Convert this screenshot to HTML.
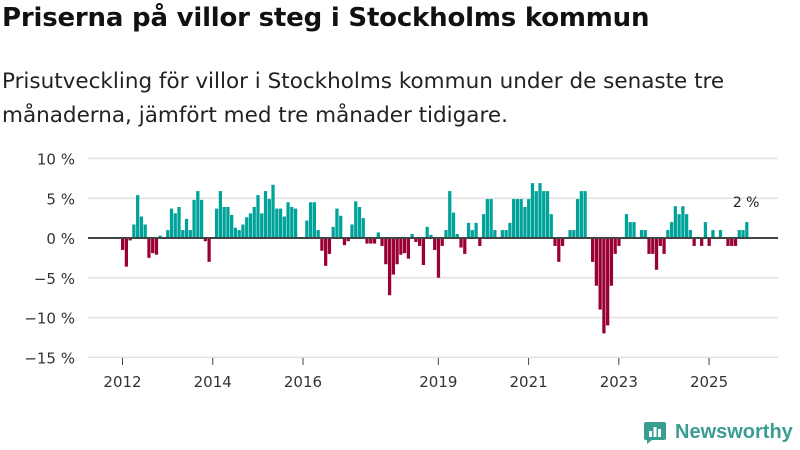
<!DOCTYPE html>
<html><head><meta charset="utf-8">
<style>
body{margin:0;width:800px;height:450px;background:#fff;font-family:"DejaVu Sans","Liberation Sans",sans-serif;overflow:hidden;position:relative}
h1{position:absolute;left:2px;top:3px;margin:0;font-size:26px;font-weight:bold;color:#111;letter-spacing:-0.2px}
p{position:absolute;left:2px;top:65px;margin:0;font-size:21.5px;line-height:34px;color:#222;width:798px;white-space:nowrap}
</style></head><body>
<h1>Priserna på villor steg i Stockholms kommun</h1>
<p>Prisutveckling för villor i Stockholms kommun under de senaste tre<br>månaderna, jämfört med tre månader tidigare.</p>
<svg id="chart" width="800" height="450" style="position:absolute;left:0;top:0"></svg>
<div style="position:absolute;left:643px;top:420px;display:flex;align-items:center;color:#3a9d91;font-size:20px;font-weight:bold;font-family:'Liberation Sans',sans-serif">
<svg width="24" height="24" viewBox="0 0 24 24" style="margin-right:8px"><path d="M3 2h18a2 2 0 0 1 2 2v14a2 2 0 0 1-2 2H9l-5 4v-4H3a2 2 0 0 1-2-2V4a2 2 0 0 1 2-2z" fill="#3a9d91"/><rect x="6" y="11" width="3" height="6" fill="#fff"/><rect x="10.5" y="7" width="3" height="10" fill="#fff"/><rect x="15" y="9" width="3" height="8" fill="#fff"/></svg>Newsworthy</div>
<script>
const values=[-1.5,-3.6,-0.3,1.7,5.4,2.7,1.7,-2.5,-1.9,-2.1,0.3,0,1.0,3.7,3.1,3.9,1.0,2.4,1.0,4.8,5.9,4.8,-0.4,-3.0,0,3.7,5.9,3.9,3.9,2.9,1.3,1.0,1.7,2.6,3.1,3.9,5.4,3.1,5.9,4.9,6.7,3.7,3.7,2.7,4.5,3.9,3.7,0,0,2.2,4.5,4.5,1.0,-1.6,-3.5,-2.0,1.4,3.7,2.8,-0.9,-0.4,1.7,4.6,3.9,2.5,-0.7,-0.7,-0.7,0.7,-1.0,-3.3,-7.2,-4.6,-3.3,-2.1,-1.9,-2.6,0.5,-0.5,-1.0,-3.4,1.4,0.4,-1.5,-5.0,-1.0,1.0,5.9,3.2,0.5,-1.2,-2.0,1.9,1.0,1.9,-1.0,3.0,4.9,4.9,1.0,0,1.0,1.0,1.9,4.9,4.9,4.9,3.9,4.9,6.9,5.9,6.9,5.9,5.9,3.0,-1.0,-3.0,-1.0,0,1.0,1.0,4.9,5.9,5.9,0,-3.0,-6.0,-9.0,-12.0,-11.0,-6.0,-2.0,-1.0,0,3.0,2.0,2.0,0,1.0,1.0,-2.0,-2.0,-4.0,-1.0,-2.0,1.0,2.0,4.0,3.0,4.0,3.0,1.0,-1.0,0,-1.0,2.0,-1.0,1.0,0,1.0,0,-1.0,-1.0,-1.0,1.0,1.0,2.0];
const startYear=2012;
const yTicks=[10,5,0,-5,-10,-15];
const yTickLabels=["10 %","5 %","0 %","−5 %","−10 %","−15 %"];
const xTickYears=[2012,2014,2016,2019,2021,2023,2025];
const lastLabel="2 %";
const svg=document.getElementById('chart');
const NS='http://www.w3.org/2000/svg';
const step=3.76, x0=121;
const FONT='DejaVu Sans, Liberation Sans, sans-serif';
function xScale(i){return x0+i*step;}
function yScale(v){return 238-v*7.95;}
function mk(tag,attrs){const e=document.createElementNS(NS,tag);for(const k in attrs)e.setAttribute(k,attrs[k]);svg.appendChild(e);return e;}
yTicks.forEach((t,k)=>{
  if(t!==0){const g=mk('line',{x1:88,x2:778,y1:yScale(t),y2:yScale(t),stroke:'#e2e2e2','stroke-width':1.5});
  
  }
  const tx=mk('text',{x:75,y:yScale(t)+6,'text-anchor':'end','font-size':15,fill:'#333','font-family':FONT});
  tx.textContent=yTickLabels[k];
  
  
});
values.forEach((v,i)=>{
  const y=yScale(Math.max(v,0)), h=Math.abs(yScale(v)-yScale(0));
  const r=mk('rect',{x:xScale(i),y:y,width:step-0.5,height:h,fill:v>=0?'#00a39a':'#990035'});
  
  
});
const z=mk('line',{x1:88,x2:778,y1:yScale(0),y2:yScale(0),stroke:'#444','stroke-width':2});


xTickYears.forEach(yr=>{
  const xx=xScale((yr-startYear)*12)+1.5;
  const tk=mk('line',{x1:xx,x2:xx,y1:358,y2:365,stroke:'#444','stroke-width':1});
  
  
  const tx=mk('text',{x:xx,y:387,'text-anchor':'middle','font-size':15,fill:'#333','font-family':FONT});
  tx.textContent=yr;
  
  
});
const li=values.length-1;
const an=mk('text',{x:xScale(li)+1,y:yScale(values[li])-15,'text-anchor':'middle','font-size':14,fill:'#222','font-family':FONT});
an.textContent=lastLabel;


</script>
</body></html>
